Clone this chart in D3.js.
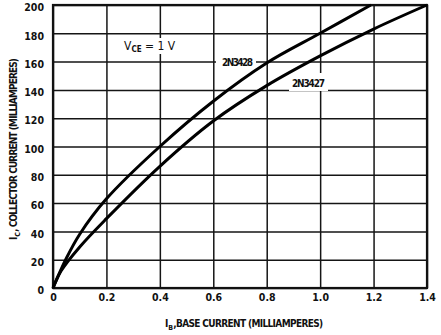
<!DOCTYPE html>
<html>
<head>
<meta charset="utf-8">
<script src="https://cdn.jsdelivr.net/npm/d3@7"></script>
<style>
  body { margin: 0; background: #fff; }
  svg text { font-family: "DejaVu Sans Condensed", "Liberation Sans Narrow", sans-serif; fill: #111; }
</style>
</head>
<body>
<svg id="chart" width="441" height="335"></svg>
<script>
// base current (mA) vs collector current (mA)
var xTicks = [0, 0.2, 0.4, 0.6, 0.8, 1.0, 1.2, 1.4];
var xTickLabels = ["0", "0.2", "0.4", "0.6", "0.8", "1.0", "1.2", "1.4"];
var yTicks = [0, 20, 40, 60, 80, 100, 120, 140, 160, 180, 200];

var ib3428 = [0, 0.05, 0.1, 0.2, 0.4, 0.6, 0.8, 1.0, 1.19];
var ic3428 = [0, 21, 38, 63, 100, 132, 159, 180, 200];
var ib3427 = [0, 0.03, 0.1, 0.2, 0.4, 0.6, 0.8, 1.0, 1.2, 1.4];
var ic3427 = [0, 12, 29, 49, 86, 118, 143, 164, 183, 200];

var svg = d3.select("#chart");
var x = d3.scaleLinear().domain([0, 1.4]).range([53, 427]);
var y = d3.scaleLinear().domain([0, 200]).range([288, 5]);

// grid + tick labels
var gx = svg.append("g").attr("transform", "translate(0,288)")
  .call(d3.axisBottom(x).tickValues(xTicks).tickSize(-283).tickPadding(6)
    .tickFormat(function(d, i) { return xTickLabels[i]; }));
var gy = svg.append("g").attr("transform", "translate(53,0)")
  .call(d3.axisLeft(y).tickValues(yTicks).tickSize(-374).tickPadding(9));

[gx, gy].forEach(function(g) {
  g.select(".domain").remove();
  g.selectAll(".tick line").attr("stroke", "#151515").attr("stroke-width", 1.5);
  g.selectAll(".tick text").style("font-size", "10.5px").style("font-weight", "bold").attr("fill", "#111");
});
gy.selectAll(".tick text").attr("dy", "0.55em");

// frame
svg.append("rect")
  .attr("x", x(0)).attr("y", y(200))
  .attr("width", x(1.4) - x(0)).attr("height", y(0) - y(200))
  .attr("fill", "none").attr("stroke", "#111").attr("stroke-width", 2.2);

// labels with white backing that break the grid
function label(tx, ty, bx, by, bw, bh) {
  svg.append("rect").attr("x", bx).attr("y", by).attr("width", bw).attr("height", bh).attr("fill", "#fff");
  return svg.append("text").attr("x", tx).attr("y", ty).style("font-size", "11px");
}

var vce = label(124, 50, 119, 38, 56, 16);
vce.append("tspan").text("V").style("font-size", "12px");
vce.append("tspan").text("CE").attr("dy", 2).style("font-size", "8px").style("font-weight", "bold");
vce.append("tspan").text(" = 1 V").attr("dy", -2).style("font-size", "12px");

label(222, 66, 216, 56, 40, 13).text("2N3428").attr("textLength", 31)
  .style("font-weight", "bold").style("font-size", "10px");
label(292, 87, 289, 73, 39, 18).text("2N3427").attr("textLength", 33)
  .style("font-weight", "bold").style("font-size", "10px");

// curves
var line = d3.line().curve(d3.curveCatmullRom.alpha(0.5))
  .x(function(d) { return x(d[0]); })
  .y(function(d) { return y(d[1]); });

[[ib3428, ic3428], [ib3427, ic3427]].forEach(function(s) {
  var pts = s[0].map(function(v, i) { return [v, s[1][i]]; });
  svg.append("path").datum(pts)
    .attr("d", line)
    .attr("fill", "none").attr("stroke", "#000").attr("stroke-width", 3);
});

// axis titles
var xt = svg.append("text").attr("x", 165).attr("y", 327).style("font-size", "10px").style("font-weight", "bold");
xt.append("tspan").text("I");
xt.append("tspan").text("B").attr("dy", 3).style("font-size", "7px");
xt.append("tspan").text(",BASE CURRENT (MILLIAMPERES)").attr("dy", -3).attr("textLength", 150);

var yt = svg.append("text").attr("transform", "translate(17,240) rotate(-90)").style("font-size", "10px").style("font-weight", "bold");
yt.append("tspan").text("I");
yt.append("tspan").text("C").attr("dy", 3).style("font-size", "7px");
yt.append("tspan").text(", COLLECTOR CURRENT (MILLIAMPERES)").attr("dy", -3).attr("textLength", 174);
</script>
</body>
</html>
